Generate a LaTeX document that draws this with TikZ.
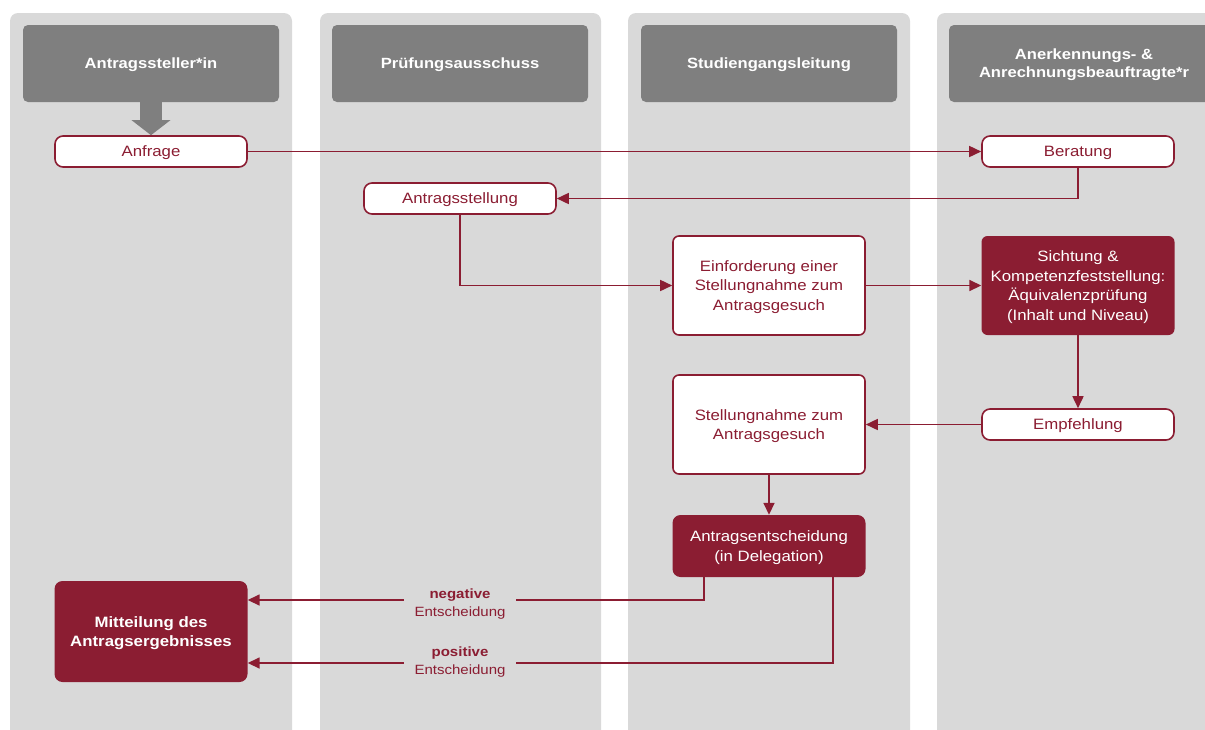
\documentclass[tikz,border=0pt]{standalone}
\usepackage{fontspec}
\setmainfont{Liberation Sans}[FakeStretch=1.12]
\usetikzlibrary{arrows.meta}
\definecolor{crim}{RGB}{139,29,50}
\definecolor{lanegray}{RGB}{217,217,217}
\definecolor{hdrgray}{RGB}{127,127,127}
\begin{document}
\begin{tikzpicture}[x=1pt,y=-1pt,
  lanebg/.style={fill=lanegray, rounded corners=8pt},
  hdr/.style={fill=hdrgray, rounded corners=5pt, text=white, font=\fontsize{14.8}{18}\selectfont\bfseries, align=center, minimum width=256pt, minimum height=77pt, inner sep=0pt, text depth=0pt},
  wbox/.style={draw=crim, line width=1.6pt, fill=white, rounded corners=8pt, text=crim, font=\fontsize{15}{19.5}\selectfont, align=center, inner sep=0pt, minimum width=192pt, text depth=0pt},
  rbox/.style={fill=crim, rounded corners=8pt, text=white, font=\fontsize{15}{19.5}\selectfont, align=center, inner sep=0pt, minimum width=193pt, text depth=0pt},
  flow/.style={draw=crim, line width=1.6pt, -{Triangle[length=12pt,width=11pt]}},
  lbl/.style={text=crim, font=\fontsize{13.4}{18}\selectfont, align=center, inner sep=0pt, fill=lanegray, minimum width=112pt, text depth=0pt}
]
\useasboundingbox (0,0) rectangle (1205,729);
\clip (0,0) rectangle (1205,729);
\fill[white] (0,0) rectangle (1205,729);
% lanes
\fill[lanebg] (10,13) rectangle (292,745);
\fill[lanebg] (320,13) rectangle (601,745);
\fill[lanebg] (628,13) rectangle (910,745);
\fill[lanebg] (937,13) rectangle (1225,745);
% headers
\node[hdr] (h1) at (151,63.5) {Antragssteller*in};
\node[hdr] (h2) at (460,63.5) {Prüfungsausschuss};
\node[hdr] (h3) at (769,63.5) {Studiengangsleitung};
\node[hdr, minimum width=270pt] (h4) at (1084,63.5) {Anerkennungs- \&\\Anrechnungsbeauftragte*r};
% nodes
\node[wbox, minimum height=31pt] (anf) at (151,151.5) {Anfrage};
\node[wbox, minimum height=31pt] (ber) at (1078,151.5) {Beratung};
\node[wbox, minimum height=31pt] (ast) at (460,198.5) {Antragsstellung};
\node[wbox, minimum height=99pt, rounded corners=6pt] (einf) at (769,285.5) {Einforderung einer\\Stellungnahme zum\\Antragsgesuch};
\node[rbox, minimum height=99pt, rounded corners=6pt] (sicht) at (1078,285.5) {Sichtung \&\\Kompetenzfeststellung:\\Äquivalenzprüfung\\(Inhalt und Niveau)};
\node[wbox, minimum height=31pt] (empf) at (1078,424.5) {Empfehlung};
\node[wbox, minimum height=99pt, rounded corners=6pt] (stell) at (769,424.5) {Stellungnahme zum\\Antragsgesuch};
\node[rbox, minimum height=62pt] (ent) at (769,546) {Antragsentscheidung\\(in Delegation)};
\node[rbox, minimum height=101pt, font=\fontsize{15}{19.5}\selectfont\bfseries] (mit) at (151,631.5) {Mitteilung des\\Antragsergebnisses};
% gray arrow
\draw[hdrgray, line width=22pt, -{Triangle[length=15pt,width=38pt]}] (h1.south) -- (anf.north);
% flows
\draw[flow] (anf.east) -- (ber.west);
\draw[flow] (ber.south) |- (ast.east);
\draw[flow] (ast.south) |- (einf.west);
\draw[flow] (einf.east) -- (sicht.west);
\draw[flow] (sicht.south) -- (empf.north);
\draw[flow] (empf.west) -- (stell.east);
\draw[flow] (stell.south) -- (ent.north);
\coordinate (negs) at (704,577);
\coordinate (poss) at (833,577);
\draw[flow] (negs) |- (mit.east |- 0,600);
\draw[flow] (poss) |- (mit.east |- 0,663);
\node[lbl] (neg) at (460,603) {\textbf{negative}\\Entscheidung};
\node[lbl] (pos) at (460,660.5) {\textbf{positive}\\Entscheidung};
\end{tikzpicture}
\end{document}
